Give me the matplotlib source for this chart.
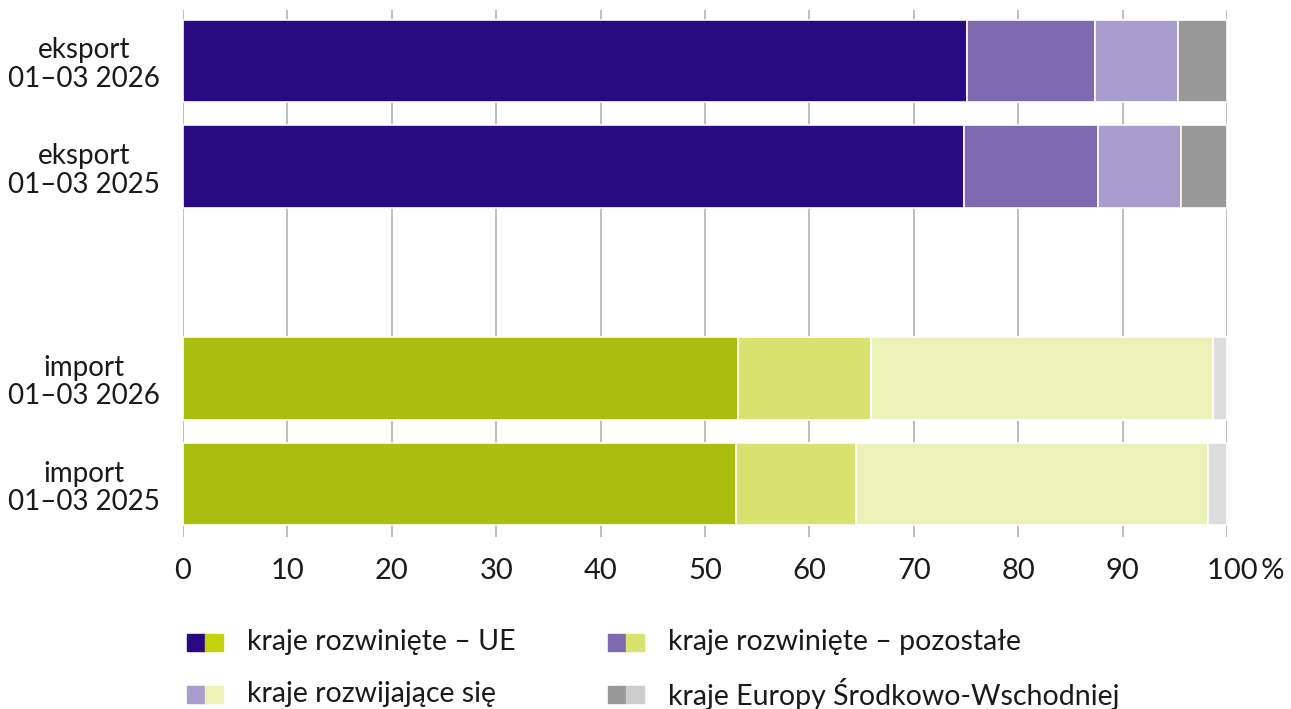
import numpy as np
import matplotlib.pyplot as plt
from matplotlib.patches import Rectangle
from matplotlib.transforms import ScaledTranslation

plt.rcParams['font.family'] = ['Lato', 'DejaVu Sans']

# shares of trade by country group, %
row_labels = ['eksport\n01\u201303 2026', 'eksport\n01\u201303 2025',
              'import\n01\u201303 2026', 'import\n01\u201303 2025']
row_pos = [0, 1, 3, 4]
groups = ['kraje rozwinięte \u2013 UE', 'kraje rozwinięte \u2013 pozostałe',
          'kraje rozwijające się', 'kraje Europy Środkowo-Wschodniej']

eu = [75.1, 74.8, 53.2, 53.0]
other_dev = [12.3, 12.8, 12.7, 11.5]
developing = [7.9, 8.0, 32.8, 33.7]
cee = [4.7, 4.4, 1.3, 1.8]

export_colors = ['#2a0a80', '#7f6ab1', '#a99dcd', '#999999']
import_colors = ['#abbd0e', '#d9e26f', '#ebf1b7', '#dddddd']
legend_import = ['#c2d30a', '#d9e26f', '#ebf1b7', '#cccccc']

fig = plt.figure(figsize=(12.91, 7.09), dpi=100)
ax = fig.add_axes([183 / 1291, 1 - 537 / 709, 1044 / 1291, 527 / 709])

series = [eu, other_dev, developing, cee]
left = np.zeros(len(row_pos))
for k, vals in enumerate(series):
    vals = np.array(vals)
    colors = [export_colors[k], export_colors[k], import_colors[k], import_colors[k]]
    ax.barh(row_pos, vals, left=left, height=0.78, color=colors,
            edgecolor='white', linewidth=1.2, zorder=3)
    left += vals

ax.set_xlim(0, 100)
ax.set_ylim(4.5, -0.48)
ax.set_xticks(np.arange(0, 101, 10))
xlabels = [str(v) for v in range(0, 100, 10)] + ['100\u2009%']
ax.set_xticklabels(xlabels, fontsize=21, color='#1a1a1a')
ax.xaxis.grid(True, color='#b3b3b3', linewidth=1.2, zorder=0)
ax.tick_params(axis='x', length=0, pad=15)
last = ax.get_xticklabels()[-1]
last.set_ha('left')
last.set_transform(last.get_transform() + ScaledTranslation(-20 / 100, 0, fig.dpi_scale_trans))

ax.set_yticks(row_pos)
ax.set_yticklabels(row_labels, fontsize=20, linespacing=1.12, color='#1a1a1a')
ax.tick_params(axis='y', length=0, pad=71)
for lab in ax.get_yticklabels():
    lab.set_ha('center')

for s in ax.spines.values():
    s.set_visible(False)

# legend: two colour squares (export, import) per group
for k, (r, c) in enumerate([(0, 0), (0, 1), (1, 0), (1, 1)]):
    x0 = [187, 608][c]
    yc = [642, 694][r]
    for j, col in enumerate([export_colors[k], legend_import[k]]):
        fig.patches.append(Rectangle(((x0 + 18 * j) / 1291, (709 - yc - 8.5) / 709),
                                     18 / 1291, 17 / 709, color=col,
                                     transform=fig.transFigure, figure=fig))
    fig.text((x0 + 60) / 1291, (709 - yc) / 709, groups[k], fontsize=20.5,
             va='center', ha='left', color='#1a1a1a')

fig.savefig('out.png', dpi=100)
